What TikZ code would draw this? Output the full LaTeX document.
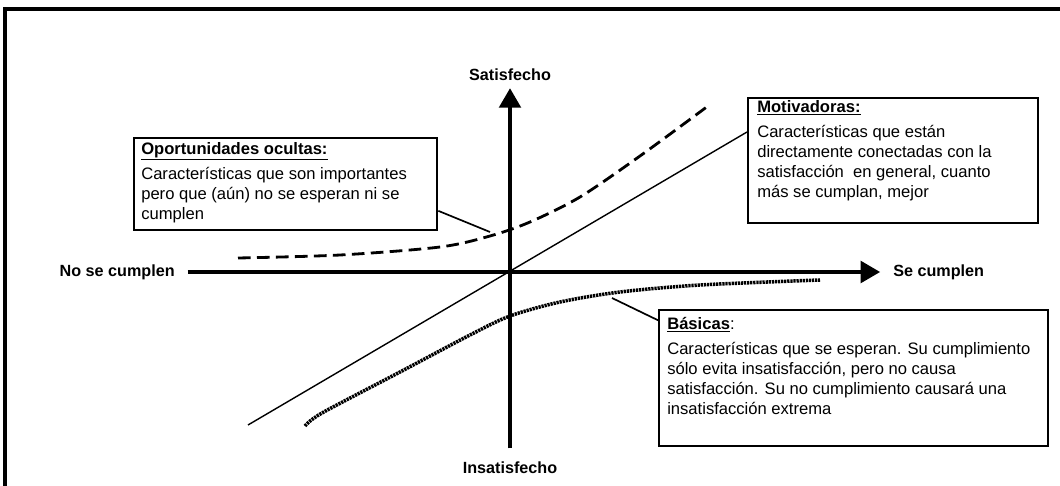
\documentclass[tikz,border=0pt]{standalone}
\usepackage{fontspec}
\setmainfont{Liberation Sans}
\usetikzlibrary{arrows.meta}

\begin{document}
\begin{tikzpicture}[x=0.025cm, y=-0.025cm,
  axis/.style={line width=3.5pt, -{Triangle[length=14pt,width=15pt]}},
  axislabel/.style={inner sep=0pt, font=\fontsize{11.5}{14}\selectfont\bfseries},
  card/.style={draw, line width=1.6pt, anchor=north west, inner sep=0pt},
  cardtext/.style={anchor=base west, align=left, inner sep=0pt, font=\fontsize{11.8}{14.2}\selectfont},
  leader/.style={line width=1.2pt},
  hidden/.style={line width=2pt, dash pattern=on 9pt off 4.5pt},
  basic/.style={line width=2.5pt, dash pattern=on 1.6pt off 0.6pt},
  linear/.style={line width=1pt}]

\useasboundingbox (0,0) rectangle (1060,486);

\draw[line width=2.3pt] (5,486) -- (5,9) -- (1060,9);

\coordinate (lin) at (248,425);
\coordinate (opoend) at (490,232);
\coordinate (basend) at (612,298);

\node[axislabel, anchor=east] (nsc) at (175,272) {No se cumplen};
\node[axislabel, anchor=west] (sc) at (893,272) {Se cumplen};
\node[axislabel, anchor=south] (sat) at (510,81) {Satisfecho};
\node[axislabel, anchor=north] (ins) at (510,461) {Insatisfecho};

\draw[linear] (lin) -- (747,132);
\draw[hidden] plot[smooth] coordinates {(238,258) (340,255) (440,247) (490,236) (530,222) (580,197) (640,156) (708,106)};
\draw[basic] plot[smooth] coordinates {(305,426) (322,413) (400,372) (470,335) (510,316) (560,302) (620,292) (700,285) (820,280)};

\draw[axis] ([xshift=9pt]nsc.east) -- ([xshift=-9pt]sc.west);
\draw[axis] ([yshift=9pt]ins.north) -- ([yshift=-5pt]sat.south);

\node[card, minimum width=7.575cm, minimum height=2.3cm] (opo) at (133,137) {};
\node[card, minimum width=7.25cm, minimum height=3.125cm] (mot) at (747,97) {};
\node[card, minimum width=9.725cm, minimum height=3.4cm] (bas) at (658,309) {};

\node[cardtext] (opotext) at (141,219) {\underline{\textbf{Oportunidades ocultas:}}\\[3.5pt]
  Características que son importantes\\
  pero que (aún) no se esperan ni se\\
  cumplen};
\node[cardtext] (mottext) at (757,197) {\underline{\textbf{Motivadoras:}}\\[3.5pt]
  Características que están\\
  directamente conectadas con la\\
  satisfacción\ \ en general, cuanto\\
  más se cumplan, mejor};
\node[cardtext] (bastext) at (667,414) {\underline{\textbf{Básicas}}:\\[3.5pt]
  Características que se esperan. Su cumplimiento\\
  sólo evita insatisfacción, pero no causa\\
  satisfacción. Su no cumplimiento causará una\\
  insatisfacción extrema};

\draw[leader] ([yshift=-19pt]opo.east) -- (opoend);
\draw[leader] (basend) -- ([yshift=-8pt]bas.north west);
\end{tikzpicture}
\end{document}
